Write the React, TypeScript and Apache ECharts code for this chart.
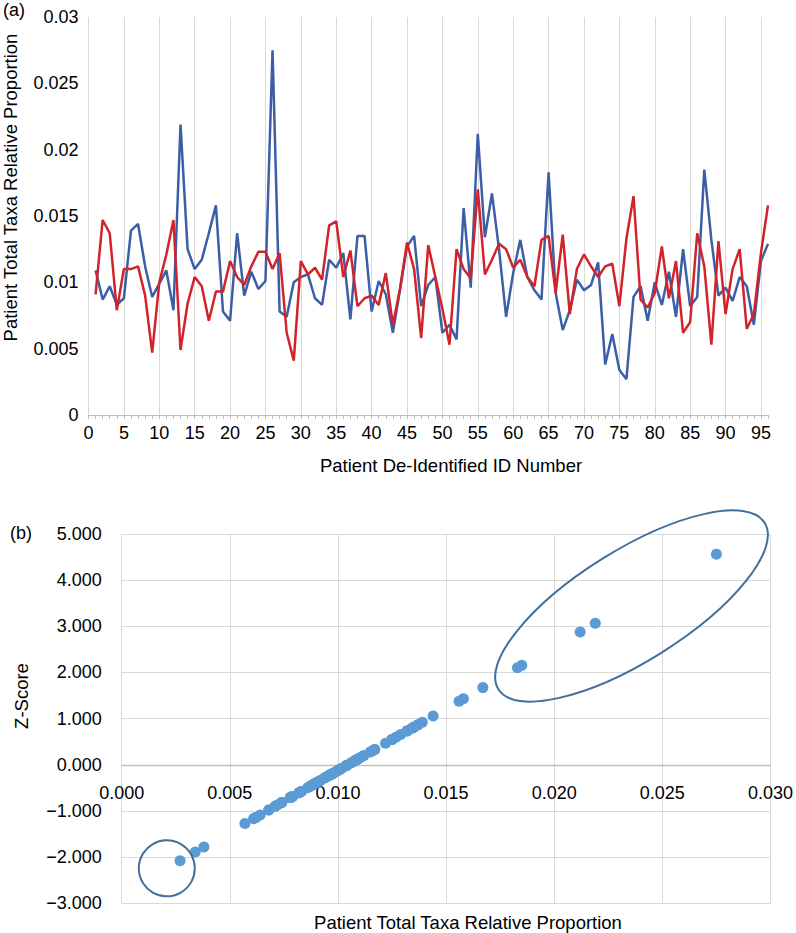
import React, { useEffect, useRef } from "react";
import * as echarts from "echarts";

// Patient IDs (x categories for panel a)
const patientIds: number[] = [
  1, 2, 3, 4, 5, 6, 7, 8, 9, 10, 11, 12, 13, 14, 15, 16, 17, 18, 19, 20,
  21, 22, 23, 24, 25, 26, 27, 28, 29, 30, 31, 32, 33, 34, 35, 36, 37, 38, 39, 40,
  41, 42, 43, 44, 45, 46, 47, 48, 49, 50, 51, 52, 53, 54, 55, 56, 57, 58, 59, 60,
  61, 62, 63, 64, 65, 66, 67, 68, 69, 70, 71, 72, 73, 74, 75, 76, 77, 78, 79, 80,
  81, 82, 83, 84, 85, 86, 87, 88, 89, 90, 91, 92, 93, 94, 95, 96,
];

// Blue series: patient total taxa relative proportion
const blueValues: number[] = [
  0.0109, 0.0087, 0.0097, 0.0083, 0.0088, 0.0139, 0.0144, 0.0112, 0.0089, 0.0099,
  0.0109, 0.0079, 0.0219, 0.0125, 0.011, 0.0117, 0.0137, 0.0158, 0.0078, 0.0071,
  0.0137, 0.009, 0.0108, 0.0095, 0.0101, 0.0275, 0.0078, 0.0074, 0.01, 0.0104,
  0.0106, 0.0088, 0.0083, 0.0117, 0.0111, 0.0122, 0.0072, 0.0135, 0.0135, 0.0078,
  0.0101, 0.0091, 0.0062, 0.0094, 0.0127, 0.0135, 0.0082, 0.0098, 0.0104, 0.0062,
  0.0068, 0.0057, 0.0156, 0.0096, 0.0212, 0.0134, 0.0167, 0.0125, 0.0074, 0.0107,
  0.0132, 0.0104, 0.0094, 0.0087, 0.0183, 0.0092, 0.0064, 0.0079, 0.0102, 0.0094,
  0.0098, 0.0115, 0.0038, 0.0061, 0.0034, 0.0027, 0.0089, 0.0097, 0.0071, 0.01,
  0.0083, 0.0108, 0.0074, 0.0125, 0.0082, 0.0089, 0.0185, 0.0132, 0.009, 0.0096,
  0.0086, 0.0104, 0.0097, 0.0068, 0.0116, 0.0129,
];

// Red series
const redValues: number[] = [
  0.0091, 0.0147, 0.0137, 0.0079, 0.011, 0.011, 0.0112, 0.009, 0.0047, 0.01,
  0.0121, 0.0147, 0.0049, 0.0084, 0.0104, 0.0097, 0.0071, 0.0093, 0.0093, 0.0116,
  0.0104, 0.0098, 0.0112, 0.0123, 0.0123, 0.011, 0.0122, 0.0062, 0.0041, 0.0116,
  0.0106, 0.0111, 0.0102, 0.0143, 0.0146, 0.0104, 0.0124, 0.0082, 0.0088, 0.009,
  0.0083, 0.0107, 0.0068, 0.0095, 0.013, 0.011, 0.0058, 0.0128, 0.0104, 0.008,
  0.0053, 0.0125, 0.011, 0.0103, 0.017, 0.0106, 0.0117, 0.0129, 0.0125, 0.0111,
  0.0117, 0.0104, 0.0097, 0.0132, 0.0135, 0.0092, 0.0136, 0.0076, 0.011, 0.0121,
  0.0112, 0.0104, 0.0112, 0.0114, 0.0082, 0.0133, 0.0165, 0.0087, 0.0081, 0.0092,
  0.0127, 0.0088, 0.0116, 0.0062, 0.007, 0.0137, 0.0112, 0.0053, 0.0131, 0.0076,
  0.011, 0.0125, 0.0065, 0.0076, 0.0122, 0.0158,
];

const FONT = "'Liberation Sans', Arial, Helvetica, sans-serif";
const BLUE = "#3b5ea6";
const RED = "#d3232a";
const DOT = "#5b9bd5";
const RING = "#41709c";
const GRID_LINE = "#d9d9d9";
const AXIS_LINE = "#bfbfbf";

// z-scores of the blue series (panel b)
const mean = blueValues.reduce((a, b) => a + b, 0) / blueValues.length;
const sd = Math.sqrt(
  blueValues.reduce((a, b) => a + (b - mean) * (b - mean), 0) / (blueValues.length - 1)
);
const zScores = blueValues.map((v) => (v - mean) / sd);

const fmtZ = (v: number) => (v < 0 ? "\u2212" + Math.abs(v).toFixed(3) : v.toFixed(3));

// panel b geometry
const B_TOP = 534;
const B_HEIGHT = 369.3;
const Z_MIN = -3;
const Z_MAX = 5;
const zeroOffset = -(B_HEIGHT * (0 - Z_MIN)) / (Z_MAX - Z_MIN);

export default function App() {
  const ref = useRef<HTMLDivElement>(null);
  useEffect(() => {
    document.body.style.margin = "0";
    if (!ref.current) return;
    const chart = echarts.init(ref.current, undefined, { renderer: "svg" });
    const labelStyle = { fontSize: 18, color: "#000", fontFamily: FONT };
    chart.setOption({
      animation: false,
      textStyle: { fontFamily: FONT },
      grid: [
        { left: 88.5, top: 17, width: 679.5, height: 398 },
        { left: 121.7, top: B_TOP, width: 649.3, height: B_HEIGHT },
      ],
      xAxis: [
        {
          gridIndex: 0,
          type: "value",
          min: 0,
          max: 96,
          interval: 5,
          position: "bottom",
          axisLine: { lineStyle: { color: AXIS_LINE, width: 1 } },
          axisTick: { show: false },
          axisLabel: { ...labelStyle, margin: 9, showMaxLabel: false },
          splitLine: { show: true, showMaxLine: false, lineStyle: { color: GRID_LINE, width: 1 } },
        },
        {
          gridIndex: 1,
          type: "value",
          min: 0,
          max: 0.03,
          interval: 0.005,
          position: "bottom",
          offset: zeroOffset,
          axisLine: { onZero: false, lineStyle: { color: AXIS_LINE, width: 1.3 } },
          axisTick: { show: false },
          axisLabel: { ...labelStyle, margin: 19, formatter: (v: number) => v.toFixed(3) },
          splitLine: { show: true, lineStyle: { color: GRID_LINE, width: 1 } },
        },
        {
          gridIndex: 0,
          type: "value",
          min: 0,
          max: 96,
          interval: 1,
          position: "bottom",
          axisLine: { show: false },
          axisTick: { show: true, length: 4, lineStyle: { color: AXIS_LINE } },
          axisLabel: { show: false },
          splitLine: { show: false },
        },
      ],
      yAxis: [
        {
          gridIndex: 0,
          type: "value",
          min: 0,
          max: 0.03,
          interval: 0.005,
          axisLine: { show: false },
          axisTick: { show: false },
          splitLine: { show: false },
          axisLabel: { ...labelStyle, margin: 10 },
        },
        {
          gridIndex: 1,
          type: "value",
          min: Z_MIN,
          max: Z_MAX,
          interval: 1,
          axisLine: { show: false, onZero: false },
          axisTick: { show: false },
          splitLine: { show: true, lineStyle: { color: GRID_LINE, width: 1 } },
          axisLabel: { ...labelStyle, margin: 20, formatter: fmtZ },
        },
      ],
      series: [
        {
          type: "line",
          xAxisIndex: 0,
          yAxisIndex: 0,
          data: patientIds.map((id, i) => [id, blueValues[i]]),
          showSymbol: false,
          lineStyle: { color: BLUE, width: 2.5 },
          itemStyle: { color: BLUE },
          z: 3,
        },
        {
          type: "line",
          xAxisIndex: 0,
          yAxisIndex: 0,
          data: patientIds.map((id, i) => [id, redValues[i]]),
          showSymbol: false,
          lineStyle: { color: RED, width: 2.5 },
          itemStyle: { color: RED },
          z: 4,
        },
        {
          type: "scatter",
          xAxisIndex: 1,
          yAxisIndex: 1,
          data: blueValues.map((v, i) => [v, zScores[i]]),
          symbolSize: 11,
          itemStyle: { color: DOT, opacity: 1 },
        },
      ],
      graphic: [
        {
          type: "text",
          x: 3,
          y: 10,
          style: { text: "(a)", fontSize: 18, fontFamily: FONT, fill: "#000", align: "left", verticalAlign: "middle" },
        },
        {
          type: "text",
          x: 10,
          y: 533,
          style: { text: "(b)", fontSize: 18, fontFamily: FONT, fill: "#000", align: "left", verticalAlign: "middle" },
        },
        {
          type: "text",
          x: 10.5,
          y: 187.5,
          rotation: Math.PI / 2,
          style: {
            text: "Patient Total Taxa Relative Proportion",
            fontSize: 18.5,
            fontFamily: FONT,
            fill: "#000",
            align: "center",
            verticalAlign: "middle",
          },
        },
        {
          type: "text",
          x: 451,
          y: 465,
          style: {
            text: "Patient De-Identified ID Number",
            fontSize: 18.5,
            fontFamily: FONT,
            fill: "#000",
            align: "center",
            verticalAlign: "middle",
          },
        },
        {
          type: "text",
          x: 21.5,
          y: 696,
          rotation: Math.PI / 2,
          style: { text: "Z-Score", fontSize: 18.5, fontFamily: FONT, fill: "#000", align: "center", verticalAlign: "middle" },
        },
        {
          type: "text",
          x: 468,
          y: 922,
          style: {
            text: "Patient Total Taxa Relative Proportion",
            fontSize: 18.5,
            fontFamily: FONT,
            fill: "#000",
            align: "center",
            verticalAlign: "middle",
          },
        },
        {
          type: "ellipse",
          x: 631.5,
          y: 606,
          rotation: (32 * Math.PI) / 180,
          shape: { cx: 0, cy: 0, rx: 157, ry: 55.5 },
          style: { fill: "none", stroke: RING, lineWidth: 2 },
          z: 10,
        },
        {
          type: "circle",
          shape: { cx: 166.8, cy: 868.3, r: 28 },
          style: { fill: "none", stroke: RING, lineWidth: 2 },
          z: 10,
        },
      ],
    });
    return () => chart.dispose();
  }, []);
  return <div ref={ref} style={{ width: 796, height: 933 }} />;
}
